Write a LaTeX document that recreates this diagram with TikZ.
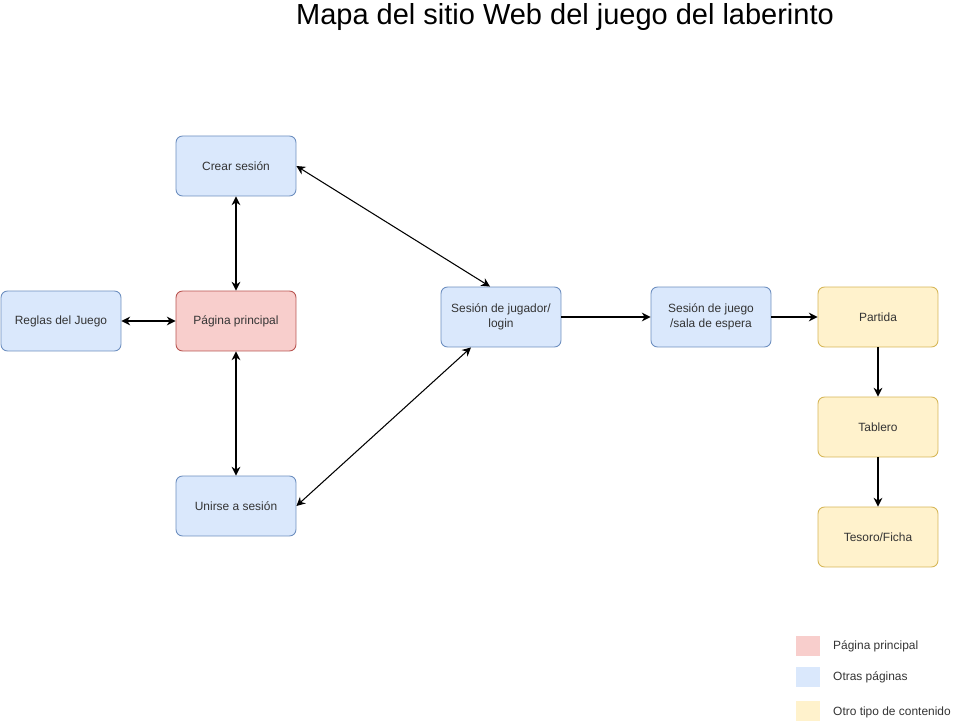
\documentclass[tikz,border=0pt]{standalone}
\usepackage{fontspec}
\setmainfont{Liberation Sans}
\usetikzlibrary{arrows.meta,calc}
\definecolor{azulfill}{HTML}{DAE8FC}
\definecolor{azulline}{HTML}{6C8EBF}
\definecolor{rojofill}{HTML}{F8CECC}
\definecolor{rojoline}{HTML}{B85450}
\definecolor{amarfill}{HTML}{FFF2CC}
\definecolor{amarline}{HTML}{D6B656}
\definecolor{texto}{HTML}{333333}
\tikzset{
	pagina/.style={draw, rounded corners=0.13cm, minimum width=2.4cm, minimum height=1.2cm,
		align=center, text=texto, font=\fontsize{6.8pt}{8.2pt}\selectfont, line width=0.5pt},
	otra/.style={pagina, fill=azulfill, draw=azulline},
	principal/.style={pagina, fill=rojofill, draw=rojoline},
	contenido/.style={pagina, fill=amarfill, draw=amarline},
	flecha/.style={-{Stealth[length=5pt,width=5pt]}, line width=0.6pt},
	dobleflecha/.style={{Stealth[length=5pt,width=5pt]}-{Stealth[length=5pt,width=5pt]}, line width=0.6pt},
	cuadro/.style={minimum width=0.48cm, minimum height=0.4cm, inner sep=0pt},
	leyenda/.style={anchor=west, text=texto, font=\fontsize{6.8pt}{8.2pt}\selectfont}
}

\begin{document}
\begin{tikzpicture}[x=0.02cm, y=-0.02cm]
		%%%%% START %%%%%
		\useasboundingbox (0, 0) rectangle (961, 722);
		
		\node[font=\fontsize{16.5pt}{19pt}\selectfont] (titulo) at (565, 17) {Mapa del sitio Web del juego del laberinto};
		
		\node[otra] (crear) at (236, 166) {Crear sesión};
		\node[principal] (principal) at (236, 321) {Página principal};
		\node[otra] (reglas) at (61, 321) {Reglas del Juego};
		\node[otra] (unirse) at (236, 506) {Unirse a sesión};
		\node[otra] (jugador) at (501, 317) {Sesión de jugador/\\login};
		\node[otra] (espera) at (711, 317) {Sesión de juego\\/sala de espera};
		\node[contenido] (partida) at (878, 317) {Partida};
		\node[contenido] (tablero) at (878, 427) {Tablero};
		\node[contenido] (tesoro) at (878, 537) {Tesoro/Ficha};
		
		\draw[dobleflecha] (crear) -- (principal);
		\draw[dobleflecha] (principal) -- (unirse);
		\draw[dobleflecha] (reglas) -- (principal);
		\draw[dobleflecha] (crear.east) -- ([xshift=-0.22cm]jugador.north);
		\draw[dobleflecha] (unirse.east) -- ([xshift=-0.6cm]jugador.south);
		\draw[flecha] (jugador) -- (espera);
		\draw[flecha] (espera) -- (partida);
		\draw[flecha] (partida) -- (tablero);
		\draw[flecha] (tablero) -- (tesoro);
		
		%%%%% LEYENDA %%%%%
		\node[cuadro, fill=rojofill] (cuadroprincipal) at (808, 646) {};
		\node[cuadro, fill=azulfill] (cuadrootras) at (808, 677) {};
		\node[cuadro, fill=amarfill] (cuadrootro) at (808, 711) {};
		\node[leyenda] (textoprincipal) at (827, 646) {Página principal};
		\node[leyenda] (textootras) at (827, 677) {Otras páginas};
		\node[leyenda] (textootro) at (827, 712) {Otro tipo de contenido};
		%%%%% END %%%%%
	\end{tikzpicture}
\end{document}
